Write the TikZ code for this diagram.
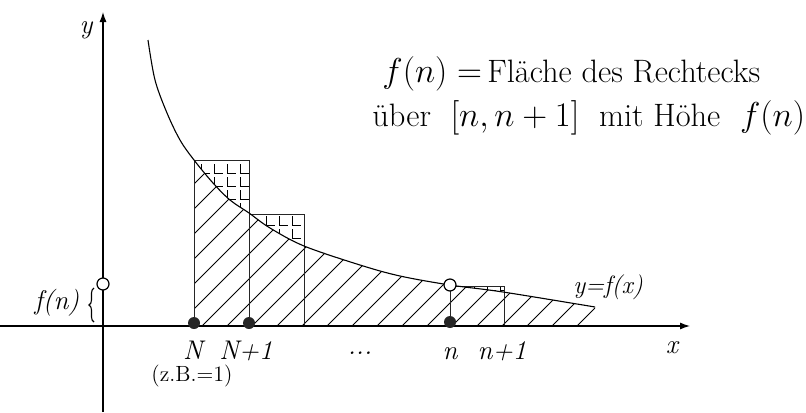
\documentclass[tikz,border=0pt]{standalone}
\usepackage{fontspec}
\usetikzlibrary{arrows.meta,decorations.pathreplacing}
\begin{document}
\begin{tikzpicture}[x=0.5pt,y=-0.5pt,
  lab/.style={font=\rmfamily\itshape\fontsize{13.5}{15}\selectfont, inner sep=0pt},
  axisline/.style={line width=0.6pt, -{Latex[length=5pt,width=3.5pt]}},
  hatchline/.style={line width=0.45pt},
  gridline/.style={line width=0.5pt},
  rectline/.style={line width=0.5pt, black!85},
  curveline/.style={line width=0.55pt},
  smoothc/.style={smooth,tension=0.55},
  dot/.style={circle, fill=black!85, minimum size=6pt, inner sep=0pt},
  ocirc/.style={circle, draw, line width=0.6pt, fill=white, minimum size=6pt, inner sep=0pt},
  toptext/.style={font=\fontsize{16.2}{19}\selectfont, inner sep=0pt, anchor=base west}]
\useasboundingbox (0,0) rectangle (806,412);
% hatch under the curve
\begin{scope}
  \clip (194,0) rectangle (595,326);
  \clip (148,326) -- plot[smoothc] coordinates {(148,40) (155,80) (167,113) (180,140) (194,160) (213,183) (230,200) (249,213) (270,228) (304,246) (360,265) (400,276) (450,285) (503,292) (595,307)} -- (595,326) -- cycle;
  \foreach \c in {27,52,...,602} \draw[hatchline] (\c,326) -- ++(200,-200);
\end{scope}
% grid between curve and rectangle tops
\begin{scope}
  \clip (194,160) rectangle (249,326) (249,214) rectangle (304,326) (450,286) rectangle (504,326);
  \clip (148,0) -- plot[smoothc] coordinates {(148,40) (155,80) (167,113) (180,140) (194,160) (213,183) (230,200) (249,213) (270,228) (304,246) (360,265) (400,276) (450,285) (503,292) (595,307)} -- (595,0) -- cycle;
  \foreach \i in {0,...,23} \foreach \j in {0,...,12}
    \draw[gridline] ({201+13*\i},{164+13*\j}) -- ({201+13*\i},{173+13*\j}) -- ({210+13*\i},{173+13*\j});
\end{scope}
% rectangles
\draw[rectline] (194,326) -- (194,160) -- (249,160) -- (249,326);
\draw[rectline] (249,214) -- (304,214) -- (304,326);
\draw[rectline] (450,326) -- (450,286) -- (504,286) -- (504,326);
% curve
\draw[curveline] plot[smoothc] coordinates {(148,40) (155,80) (167,113) (180,140) (194,160) (213,183) (230,200) (249,213) (270,228) (304,246) (360,265) (400,276) (450,285) (503,292) (595,307)};
% axes
\coordinate (xs) at (0,326);
\coordinate (xe) at (690,326);
\coordinate (ys) at (103,412);
\coordinate (ye) at (103,12);
\draw[axisline] (xs) -- (xe);
\draw[axisline] (ys) -- (ye);
% circles and dots
\node[ocirc] (c0) at (103,284) {};
\node[ocirc] (cn) at (450,285) {};
\node[dot] (dN) at (194,323) {};
\node[dot] (dN1) at (249,323) {};
\node[dot] (dn) at (450,322) {};
% brace
\coordinate (bb) at (94,322);
\coordinate (bt) at (94,288);
\draw[decorate, decoration={brace, amplitude=2.5pt}, line width=0.55pt] (bb) -- (bt);
% labels
\node[lab, anchor=base] (ly) at (86,33) {y};
\node[lab, anchor=base] (lx) at (672,353) {x};
\node[lab, anchor=base] (lfn) at (57,309) {f(n)};
\node[lab, anchor=base] (lN) at (193,359) {N};
\node[lab, anchor=base] (lN1) at (246,359) {N+1};
\node[lab, anchor=base] (ldots) at (360,354) {...};
\node[lab, anchor=base] (ln) at (450,359) {n};
\node[lab, anchor=base] (ln1) at (502,359) {n+1};
\node[lab, anchor=base west, font=\rmfamily\itshape\fontsize{12.5}{14}\selectfont] (lyfx) at (573,293) {y=f(x)};
\node[font=\rmfamily\fontsize{11}{13}\selectfont, inner sep=0pt, anchor=base] (lzb) at (192,381) {(z.B.=1)};
\node[toptext] (t1) at (382,82) {$f(n) =$\,Fläche des Rechtecks};
\node[toptext] (t2) at (372,126) {über\ \ $[n,n+1]$\ \ mit Höhe\ \ $f(n)$};
\end{tikzpicture}
\end{document}
